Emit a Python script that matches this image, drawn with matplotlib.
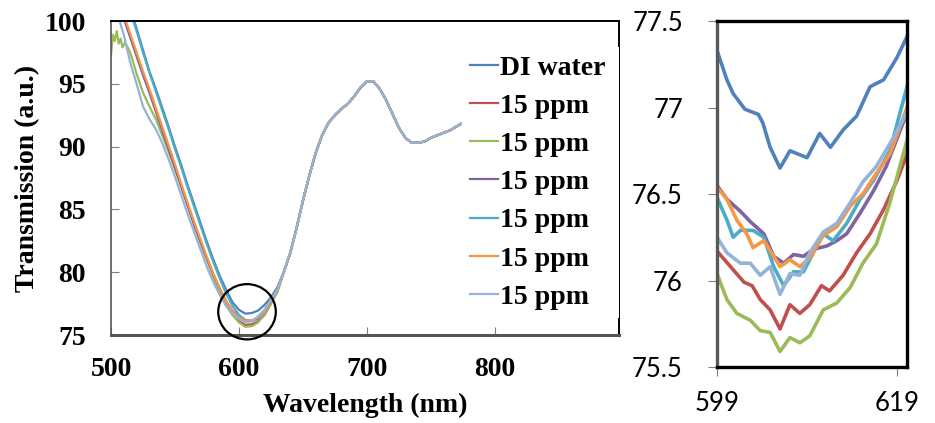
import numpy as np
import matplotlib
matplotlib.use('Agg')
import matplotlib.pyplot as plt
from matplotlib.patches import Ellipse

# ---- full spectra (left panel) ----
labels = ['DI water', '15 ppm', '15 ppm', '15 ppm', '15 ppm', '15 ppm', '15 ppm']
colors = ['#4F81BD', '#C0504D', '#9BBB59', '#8064A2', '#4BACC6', '#F79646', '#95B3D7']

wl_head = [510, 515, 520, 525, 530, 535, 540, 545, 550, 555, 560, 565, 570, 575,
           580, 585, 590, 595, 600, 605, 610, 615, 620, 625, 630]
head_water = [102.5, 101.0, 99.4, 97.7, 96.0, 94.6, 93.1, 91.6, 90.0, 88.5, 86.9, 85.4, 83.9, 82.4,
              81.0, 79.7, 78.6, 77.6, 77.0, 76.7, 76.75, 76.95, 77.4, 78.0, 78.8]
head_red = [100.3, 98.8, 97.3, 95.8, 94.4, 92.9, 91.4, 89.9, 88.4, 86.8, 85.3, 83.8, 82.4, 81.0,
            79.7, 78.5, 77.4, 76.6, 76.1, 75.8, 75.85, 76.1, 76.6, 77.5, 78.5]
head_purple = [100.2, 98.7, 97.2, 95.7, 94.3, 92.8, 91.3, 89.8, 88.3, 86.8, 85.3, 83.8, 82.4, 81.1,
               79.8, 78.7, 77.7, 76.9, 76.5, 76.15, 76.15, 76.3, 76.9, 77.7, 78.6]
head_teal = [102.3, 100.8, 99.2, 97.5, 95.9, 94.4, 92.9, 91.4, 89.8, 88.3, 86.7, 85.2, 83.7, 82.2,
             80.8, 79.5, 78.3, 77.3, 76.6, 76.2, 76.1, 76.4, 77.0, 77.8, 78.7]
head_orange = [100.5, 99.0, 97.5, 96.0, 94.6, 93.1, 91.6, 90.1, 88.6, 87.0, 85.5, 84.0, 82.6, 81.2,
               79.9, 78.7, 77.7, 76.9, 76.4, 76.15, 76.15, 76.4, 76.9, 77.7, 78.6]

wl_green = [500, 501.5, 503, 504.5, 506, 507.5, 509, 511, 515, 520, 525, 530, 535, 540, 545, 550,
            555, 560, 565, 570, 575, 580, 585, 590, 595, 600, 605, 610, 615, 620, 625, 630]
head_green = [97.3, 98.9, 98.4, 99.2, 98.2, 98.6, 97.9, 98.3, 97.5, 95.8, 94.3, 93.2, 92.2, 90.9,
              89.6, 88.2, 86.8, 85.3, 83.8, 82.4, 81.0, 79.7, 78.5, 77.4, 76.6, 76.0, 75.65, 75.7,
              76.0, 76.7, 77.5, 78.4]

wl_light = [503, 505, 507, 510, 515, 520, 525, 530, 535, 540, 545, 550, 555, 560, 565, 570, 575,
            580, 585, 590, 595, 600, 605, 610, 615, 620, 625, 630]
head_light = [100.5, 100.1, 99.9, 98.9, 96.7, 95.0, 93.2, 92.2, 91.4, 90.3, 89.0, 87.6, 86.1, 84.6,
              83.2, 81.8, 80.4, 79.2, 78.2, 77.3, 76.7, 76.3, 76.0, 76.1, 76.5, 77.0, 77.8, 78.6]

# common part of all spectra
wl_tail = [635, 640, 645, 650, 655, 660, 665, 670, 675, 680, 685, 690, 695, 700, 705, 710, 715,
           720, 725, 730, 735, 740, 745, 750, 755, 760, 765, 770, 775, 780, 790, 800, 820, 840,
           860, 880, 900]
tail = [80.0, 81.5, 83.5, 85.7, 87.7, 89.5, 90.9, 91.9, 92.5, 93.0, 93.4, 94.0, 94.7, 95.2, 95.2,
        94.6, 93.7, 92.6, 91.5, 90.7, 90.3, 90.3, 90.4, 90.7, 90.9, 91.1, 91.3, 91.6, 91.9, 92.1,
        92.4, 92.7, 93.1, 93.4, 93.6, 93.8, 93.9]

# ---- zoomed minimum (right panel) ----
z_water_x = [599.0, 600.1, 600.8, 602.1, 603.6, 604.1, 604.9, 606.0, 607.1, 609.0, 610.4, 611.6,
             613.0, 614.5, 616.0, 617.5, 619.0, 620.1]
z_water_y = [77.33, 77.16, 77.08, 76.99, 76.96, 76.91, 76.77, 76.65, 76.75, 76.71, 76.85, 76.77,
             76.87, 76.95, 77.12, 77.16, 77.29, 77.41]
z_red_x = [599.0, 600.5, 602.0, 602.9, 603.8, 604.9, 606.0, 607.1, 608.2, 609.3, 610.6, 611.5,
           613.0, 614.5, 616.0, 617.5, 619.0, 620.1]
z_red_y = [76.17, 76.08, 75.99, 75.97, 75.89, 75.83, 75.72, 75.86, 75.81, 75.86, 75.97, 75.94,
           76.03, 76.16, 76.27, 76.41, 76.58, 76.73]
z_green_x = [599.0, 600.1, 601.2, 602.7, 603.8, 604.9, 606.0, 607.1, 608.2, 609.3, 610.8, 612.3,
             613.8, 615.2, 616.7, 618.2, 620.1]
z_green_y = [76.04, 75.89, 75.81, 75.77, 75.71, 75.70, 75.59, 75.67, 75.64, 75.68, 75.83, 75.87,
             75.96, 76.10, 76.21, 76.45, 76.81]
z_purple_x = [599.0, 600.1, 601.6, 602.7, 604.2, 605.3, 606.4, 607.5, 608.6, 609.7, 611.2, 612.3,
              613.4, 614.9, 616.4, 617.8, 620.1]
z_purple_y = [76.55, 76.47, 76.40, 76.34, 76.27, 76.14, 76.10, 76.15, 76.14, 76.18, 76.20, 76.23,
              76.27, 76.39, 76.52, 76.66, 76.97]
z_teal_x = [599.0, 600.1, 600.8, 601.6, 603.0, 604.2, 605.3, 606.4, 607.5, 608.6, 609.7, 610.8,
            611.9, 613.4, 614.9, 616.4, 618.2, 620.1]
z_teal_y = [76.48, 76.35, 76.25, 76.29, 76.29, 76.25, 76.08, 75.97, 76.05, 76.05, 76.16, 76.27,
            76.23, 76.33, 76.47, 76.58, 76.75, 77.12]
z_orange_x = [599.0, 600.1, 601.2, 602.3, 603.0, 604.2, 605.3, 606.0, 607.1, 608.2, 609.3, 610.8,
              612.3, 613.8, 615.2, 616.7, 618.2, 620.1]
z_orange_y = [76.54, 76.47, 76.35, 76.27, 76.19, 76.23, 76.14, 76.08, 76.12, 76.08, 76.13, 76.26,
              76.31, 76.43, 76.50, 76.62, 76.73, 77.00]
z_light_x = [599.0, 600.1, 601.6, 602.7, 603.8, 604.9, 606.0, 607.1, 608.2, 609.3, 610.8, 612.3,
             613.8, 615.2, 616.7, 618.2, 620.1]
z_light_y = [76.25, 76.16, 76.10, 76.10, 76.03, 76.08, 75.92, 76.04, 76.03, 76.16, 76.28, 76.33,
             76.45, 76.57, 76.66, 76.79, 76.97]

left_x = [wl_head, wl_head, wl_green, wl_head, wl_head, wl_head, wl_light]
left_y = [head_water, head_red, head_green, head_purple, head_teal, head_orange, head_light]
zoom_x = [z_water_x, z_red_x, z_green_x, z_purple_x, z_teal_x, z_orange_x, z_light_x]
zoom_y = [z_water_y, z_red_y, z_green_y, z_purple_y, z_teal_y, z_orange_y, z_light_y]

serif = 'Liberation Serif'
gray = '#7f7f7f'

fig = plt.figure(figsize=(9.35, 4.23), dpi=100)
ax = fig.add_axes([111/935, 1-335/423, 508/935, 314/423])
ax2 = fig.add_axes([717/935, 1-367/423, 190/935, 346/423])

for xs, ys, c, lab in zip(left_x, left_y, colors, labels):
    ax.plot(list(xs) + wl_tail, list(ys) + tail, color=c, lw=1.6, label=lab)

ax.set_xlim(500, 897)
ax.set_ylim(75, 100)
ax.set_xticks([500, 600, 700, 800])
ax.set_yticks([75, 80, 85, 90, 95, 100])
ax.tick_params(direction='in', length=6, color=gray, width=0.8)
ax.tick_params(axis='y', pad=18)
ax.tick_params(axis='x', pad=16)
for t in ax.get_xticklabels() + ax.get_yticklabels():
    t.set_fontfamily(serif)
    t.set_fontweight('bold')
    t.set_fontsize(20)
ax.spines['left'].set_color('#555555')
ax.spines['left'].set_linewidth(1.2)
ax.spines['bottom'].set_color('#555555')
ax.spines['bottom'].set_linewidth(2.2)
ax.spines['top'].set_linewidth(1.4)
ax.spines['right'].set_linewidth(1.4)
ax.set_xlabel('Wavelength (nm)', fontfamily=serif, fontweight='bold', fontsize=20, labelpad=8)
ax.set_ylabel('Transmission (a.u.)', fontfamily=serif, fontweight='bold', fontsize=20, labelpad=3)

circ = Ellipse((606.3, 76.85), width=45, height=4.4, fill=False, ec='black', lw=1.6,
               clip_on=False, zorder=5)
ax.add_patch(circ)

leg = ax.legend(loc='upper left', bbox_to_anchor=(0.69, 0.0, 0.31, 0.918), mode='expand',
                frameon=True, fancybox=False,
                handlelength=1.0, handletextpad=0.1, labelspacing=0.46, borderpad=0.3,
                borderaxespad=0, prop={'family': serif, 'weight': 'bold', 'size': 20})
leg.get_frame().set_edgecolor('none')
leg.get_frame().set_facecolor('white')
leg.get_frame().set_alpha(1)

for xs, ys, c in zip(zoom_x, zoom_y, colors):
    ax2.plot(xs, ys, color=c, lw=2.6)
ax2.set_xlim(599, 620.1)
ax2.set_ylim(75.5, 77.5)
ax2.set_xticks([599, 619])
ax2.set_yticks([75.5, 76, 76.5, 77, 77.5])
ax2.set_yticklabels(['75.5', '76', '76.5', '77', '77.5'])
ax2.tick_params(direction='out', length=6.5, color=gray, width=0.8)
ax2.tick_params(axis='y', pad=18)
ax2.tick_params(axis='x', pad=11)
for t in ax2.get_xticklabels() + ax2.get_yticklabels():
    t.set_fontfamily('Lato')
    t.set_fontsize(18.5)
for s in ax2.spines.values():
    s.set_linewidth(2.4)
ax2.spines['left'].set_color('#595959')

fig.savefig('out.png', dpi=100)
